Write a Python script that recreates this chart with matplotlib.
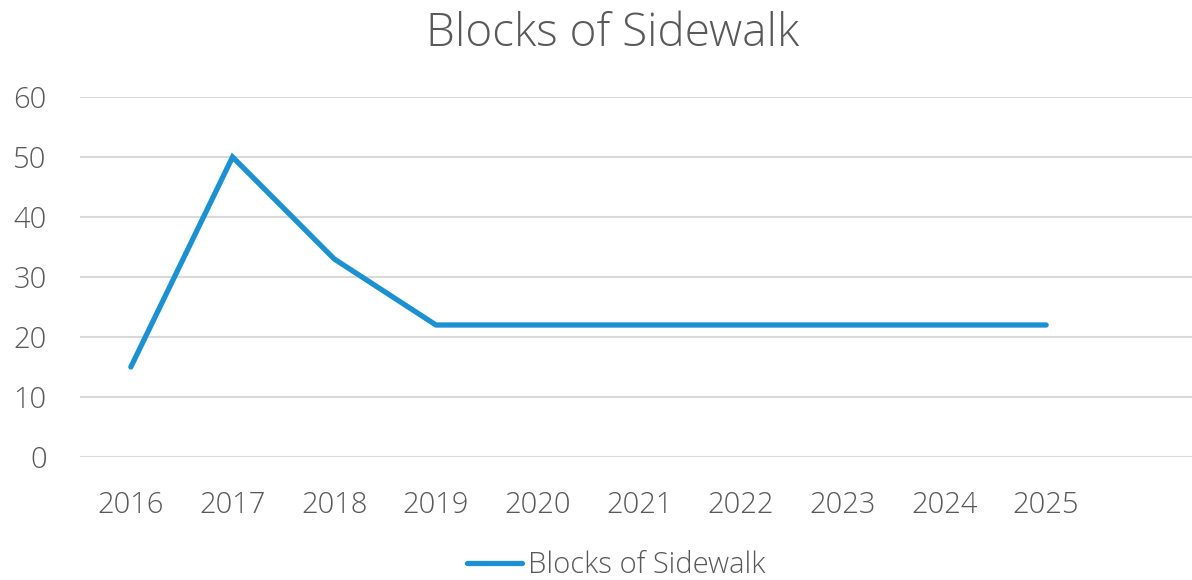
import matplotlib.pyplot as plt
from matplotlib.font_manager import fontManager

years = ["2016", "2017", "2018", "2019", "2020", "2021", "2022", "2023", "2024", "2025"]
blocks = [15, 50, 33, 22, 22, 22, 22, 22, 22, 22]

# fuente ligera parecida a Segoe UI Light
nombres = {f.name for f in fontManager.ttflist}
fuente = "Open Sans" if "Open Sans" in nombres else "DejaVu Sans"
plt.rcParams['font.family'] = [fuente, 'DejaVu Sans']
plt.rcParams['font.weight'] = 'light'

gris = '#595959'
azul = '#1B91D2'

fig = plt.figure(figsize=(11.92, 5.8), dpi=100)
ax = fig.add_axes([80 / 1192, 1 - 457 / 580, 1 - 80 / 1192, (457 - 97) / 580])

x = list(range(len(years)))
ax.plot(x, blocks, color=azul, linewidth=3.8, solid_capstyle='round', solid_joinstyle='miter',
        label="Blocks of Sidewalk")

ax.set_xlim(-0.5, (1192 - 80) / 101.7 - 0.5)
ax.set_ylim(0, 60)
ax.set_yticks(range(0, 61, 10))
ax.set_xticks(x)
ax.set_xticklabels(years)
ax.tick_params(axis='both', length=0, labelsize=21, labelcolor=gris)
ax.tick_params(axis='x', pad=24)
ax.tick_params(axis='y', pad=24)

ax.grid(True, axis='y', color='#D9D9D9', linewidth=1.5)
ax.set_axisbelow(True)
for s in ax.spines.values():
    s.set_visible(False)

fig.suptitle("Blocks of Sidewalk", x=613 / 1192, y=1 - 34 / 580, va='center', fontsize=33,
             color=gris, fontweight='light')
fig.legend(loc='center', bbox_to_anchor=(616 / 1192, 1 - 565 / 580), frameon=False, fontsize=21,
           labelcolor=gris, handlelength=1.9, handletextpad=0.2, borderpad=0.2)

fig.savefig("out.png", dpi=100)
